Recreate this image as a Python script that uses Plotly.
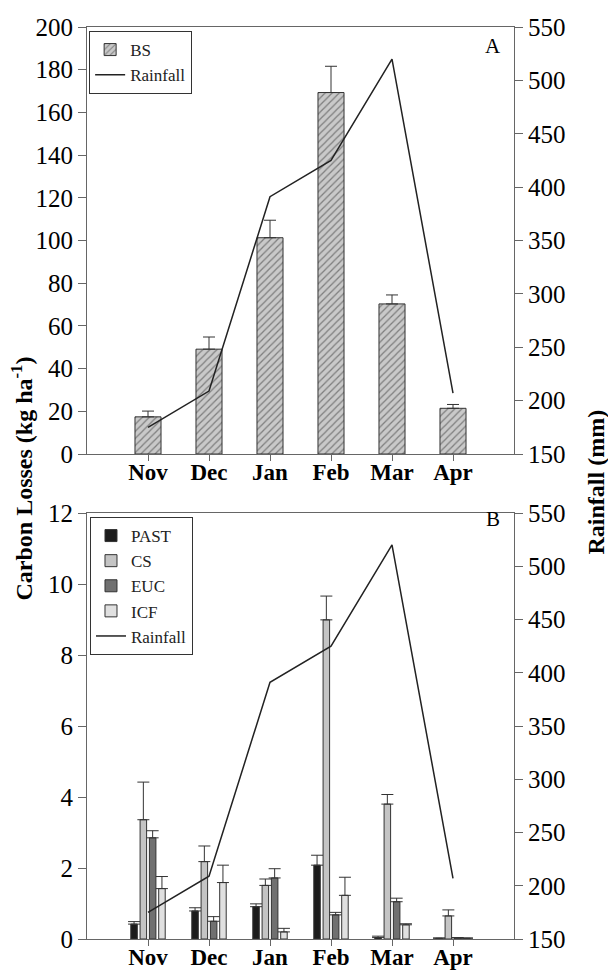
import plotly.graph_objects as go

months = ["Nov", "Dec", "Jan", "Feb", "Mar", "Apr"]
rainfall = [175, 209, 391, 425, 520, 207]

bs = [17.4, 49.1, 101.3, 169.3, 70.3, 21.4]
bs_err = [2.7, 5.7, 8.2, 12.3, 4.2, 1.8]

past = [0.42, 0.79, 0.91, 2.08, 0.04, 0.02]
past_err = [0.07, 0.09, 0.08, 0.28, 0.04, 0.01]
cs = [3.36, 2.18, 1.51, 8.99, 3.80, 0.65]
cs_err = [1.06, 0.44, 0.18, 0.67, 0.27, 0.17]
euc = [2.85, 0.50, 1.72, 0.68, 1.05, 0.03]
euc_err = [0.20, 0.13, 0.26, 0.07, 0.10, 0.01]
icf = [1.42, 1.59, 0.20, 1.23, 0.40, 0.02]
icf_err = [0.34, 0.49, 0.10, 0.51, 0.03, 0.01]

FONT = "Liberation Serif"
AX = "#666666"
EDGE = "#333333"

fig = go.Figure()


def err(vals):
    return dict(type="data", symmetric=False, array=vals, arrayminus=[0] * len(vals),
                color=EDGE, thickness=1, width=6)


fig.add_trace(go.Bar(
    x=months, y=bs, name="BS", xaxis="x", yaxis="y", legend="legend",
    marker=dict(color="#c9c9c9", line=dict(color=EDGE, width=1),
                pattern=dict(shape="/", fgcolor="#333333", bgcolor="#c9c9c9", size=5, solidity=0.25)),
    error_y=err(bs_err)))
fig.add_trace(go.Scatter(
    x=months, y=rainfall, name="Rainfall", mode="lines", xaxis="x", yaxis="y2", legend="legend",
    line=dict(color="#222222", width=1.5)))

for name, vals, errs, col in [("PAST", past, past_err, "#1c1c1c"),
                              ("CS", cs, cs_err, "#c4c4c4"),
                              ("EUC", euc, euc_err, "#707070"),
                              ("ICF", icf, icf_err, "#e0e0e0")]:
    fig.add_trace(go.Bar(
        x=months, y=vals, name=name, xaxis="x2", yaxis="y3", legend="legend2",
        marker=dict(color=col, line=dict(color=EDGE, width=1)),
        error_y=err(errs)))
fig.add_trace(go.Scatter(
    x=months, y=rainfall, name="Rainfall", mode="lines", xaxis="x2", yaxis="y4", legend="legend2",
    line=dict(color="#222222", width=1.5)))

tickf = dict(family=FONT, size=25, color="black")
monthf = dict(family=FONT, size=23, color="black", weight="bold")

xcommon = dict(type="category", categoryorder="array", categoryarray=months, range=[-1, 6],
               showline=True, linecolor=AX, linewidth=1, mirror=True, ticks="outside",
               ticklen=6, tickcolor=AX, tickfont=monthf, showgrid=False, zeroline=False,
               automargin=False, ticklabelstandoff=-9)
ycommon = dict(showline=True, linecolor=AX, linewidth=1, ticks="outside", ticklen=8,
               tickcolor=AX, tickfont=tickf, showgrid=False, zeroline=False, automargin=False)

top_dom = [0.5318, 1.0]
bot_dom = [0.0, 0.4671]

fig.update_layout(
    width=608, height=971,
    margin=dict(l=87, r=94, t=27, b=32),
    paper_bgcolor="white", plot_bgcolor="white",
    barmode="group", bargap=0.39, bargroupgap=0.3,
    font=dict(family=FONT, color="black"),
    xaxis=dict(domain=[0, 1], anchor="y", **xcommon),
    yaxis=dict(domain=top_dom, anchor="x", range=[0, 200], dtick=20, **ycommon),
    yaxis2=dict(overlaying="y", side="right", anchor="x", range=[150, 550], dtick=50, **ycommon),
    xaxis2=dict(domain=[0, 1], anchor="y3", **xcommon),
    yaxis3=dict(domain=bot_dom, anchor="x2", range=[0, 12], dtick=2, **ycommon),
    yaxis4=dict(overlaying="y3", side="right", anchor="x2", range=[150, 550], dtick=50, **ycommon),
    legend=dict(x=0.005, y=0.9956, xanchor="left", yanchor="top", bgcolor="white",
                bordercolor=EDGE, borderwidth=1, font=dict(family=FONT, size=17, color="#222222"),
                tracegroupgap=0, itemwidth=30, traceorder="normal"),
    legend2=dict(x=0.007, y=0.4627, xanchor="left", yanchor="top", bgcolor="white",
                 bordercolor=EDGE, borderwidth=1, font=dict(family=FONT, size=17, color="#222222"),
                 tracegroupgap=0, itemwidth=30, traceorder="normal"),
    showlegend=True,
    annotations=[
        dict(text="Carbon Losses (kg ha<sup>-1</sup>)", xref="paper", yref="paper",
             x=-0.152, y=0.505, xanchor="center", yanchor="middle", textangle=-90,
             showarrow=False, font=dict(family=FONT, size=24, weight="bold")),
        dict(text="Rainfall (mm)", xref="paper", yref="paper",
             x=1.192, y=0.5016, xanchor="center", yanchor="middle", textangle=-90,
             showarrow=False, font=dict(family=FONT, size=24, weight="bold")),
        dict(text="A", xref="paper", yref="paper", x=0.951, y=0.979, xanchor="center",
             yanchor="middle", showarrow=False, font=dict(family=FONT, size=21)),
        dict(text="B", xref="paper", yref="paper", x=0.951, y=0.46, xanchor="center",
             yanchor="middle", showarrow=False, font=dict(family=FONT, size=21)),
    ],
)

fig.write_html(
    "out.html",
    config={"displayModeBar": False},
    post_script="document.body.style.margin='0px';"
                "document.documentElement.style.overflow='hidden';"
                "document.body.style.overflow='hidden';",
)
